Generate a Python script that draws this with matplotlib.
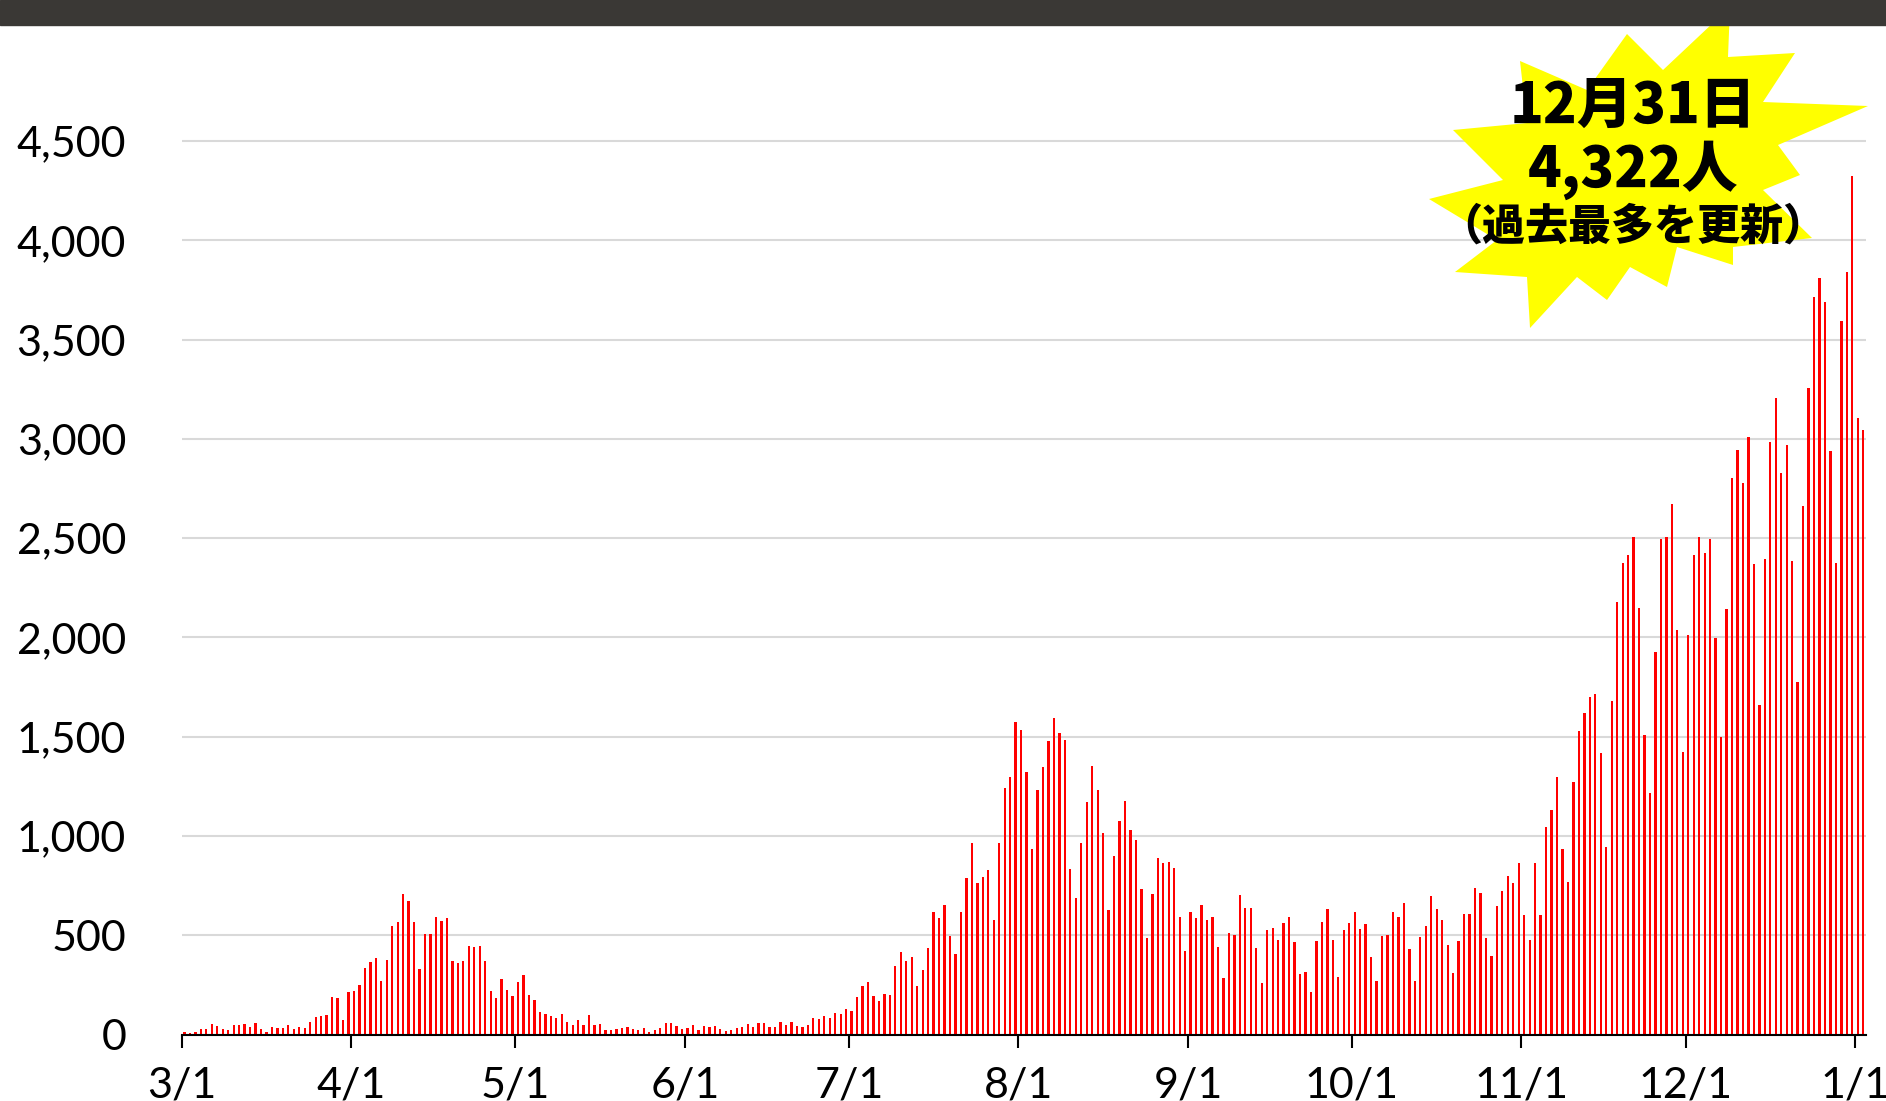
import numpy as np
import matplotlib
matplotlib.use("Agg")
import matplotlib.pyplot as plt
from matplotlib.patches import Polygon, Rectangle

plt.rcParams['font.family'] = ['Lato', 'Noto Sans CJK JP', 'DejaVu Sans']

# daily new cases, 3/1 to 1/2
mar = [12, 10, 13, 28, 27, 55, 44, 28, 23, 50, 49, 52, 39, 59, 28, 12, 40, 35, 34, 50,
       30, 39, 34, 62, 90, 94, 100, 191, 183, 72, 215]
apr = [220, 250, 336, 367, 384, 268, 374, 547, 569, 706, 673, 569, 331, 507, 507, 592,
       572, 586, 371, 362, 371, 446, 441, 448, 371, 218, 186, 280, 225, 195]
may = [263, 299, 201, 175, 116, 104, 94, 86, 104, 64, 49, 76, 50, 97, 49, 54, 25, 25,
       28, 32, 37, 27, 25, 35, 15, 22, 32, 57, 60, 42, 28]
jun = [32, 47, 22, 42, 37, 42, 28, 17, 25, 32, 37, 54, 39, 57, 57, 39, 39, 64, 50, 62,
       45, 39, 50, 86, 77, 94, 84, 107, 106, 128]
jul = [121, 190, 243, 264, 193, 169, 203, 198, 347, 418, 371, 389, 245, 324, 436, 616,
       586, 651, 498, 406, 616, 789, 963, 763, 795, 827, 577, 965, 1240, 1295, 1574]
aug = [1532, 1321, 935, 1230, 1347, 1478, 1594, 1520, 1485, 832, 690, 965, 1171, 1352,
       1230, 1014, 626, 898, 1077, 1178, 1030, 982, 735, 485, 708, 889, 864, 868, 839,
       594, 421]
sep = [619, 587, 651, 579, 592, 443, 284, 510, 503, 705, 636, 636, 436, 262, 527, 539,
       475, 564, 592, 465, 305, 317, 213, 473, 565, 634, 475, 289, 527, 564]
oct_ = [619, 530, 559, 391, 268, 494, 501, 617, 590, 665, 430, 268, 492, 546, 700, 630,
        576, 453, 308, 470, 609, 605, 740, 713, 484, 395, 646, 721, 800, 765, 862]
nov = [601, 478, 862, 603, 1045, 1132, 1299, 933, 767, 1274, 1531, 1618, 1699, 1716,
       1419, 943, 1681, 2178, 2377, 2413, 2505, 2148, 1510, 1217, 1925, 2496, 2508,
       2670, 2038, 1425]
dec = [2014, 2416, 2505, 2423, 2496, 1995, 1498, 2142, 2801, 2944, 2779, 3008, 2368,
       1660, 2395, 2984, 3204, 2828, 2969, 2386, 1773, 2664, 3255, 3713, 3811, 3689,
       2938, 2377, 3591, 3841, 4322]
jan = [3103, 3042]

month_labels = ['3/1', '4/1', '5/1', '6/1', '7/1', '8/1', '9/1', '10/1', '11/1', '12/1', '1/1']
month_lengths = [31, 30, 31, 30, 31, 31, 30, 31, 30, 31]
yticks = [0, 500, 1000, 1500, 2000, 2500, 3000, 3500, 4000, 4500]

cases = np.array(mar + apr + may + jun + jul + aug + sep + oct_ + nov + dec + jan)
days = np.arange(len(cases)) + 0.5
month_pos = np.concatenate([[0], np.cumsum(month_lengths)])

W, H = 1886, 1101
fig = plt.figure(figsize=(W / 100, H / 100), dpi=100)
ax = fig.add_axes([181.7 / W, 66.4 / H, (1866 - 181.7) / W, 933.4 / H])

ax.bar(days, cases, width=0.42, color='#ff0000', linewidth=0)
ax.set_xlim(0, 308)
ax.set_ylim(0, 4700)

ax.set_yticks(yticks)
ax.set_yticklabels([f'{v:,}' for v in yticks])
ax.set_xticks(month_pos)
ax.set_xticklabels(month_labels)
ax.grid(axis='y', color='#d9d9d9', linewidth=1.5)
ax.set_axisbelow(True)

for s in ['left', 'right', 'top']:
    ax.spines[s].set_visible(False)
ax.spines['bottom'].set_linewidth(1.5)
ax.tick_params(axis='y', length=0, pad=40, labelsize=31)
ax.tick_params(axis='x', length=9, width=1.5, pad=14, labelsize=31)

# dark banner at the top
fig.add_artist(Rectangle((0, 1 - 25 / H), 1, 25 / H, transform=fig.transFigure,
                         color='#3a3835', zorder=5))

# yellow starburst callout
star = [(1730, 7), (1728, 57), (1795, 53), (1763, 102), (1868, 106), (1778, 145),
        (1800, 175), (1763, 190), (1812, 238), (1733, 247), (1733, 265), (1677, 247),
        (1667, 287), (1630, 267), (1607, 300), (1577, 277), (1530, 328), (1527, 277),
        (1455, 272), (1497, 240), (1429, 199), (1503, 180), (1453, 130), (1527, 123),
        (1520, 61), (1587, 90), (1627, 34), (1663, 70)]
star = [(x / W, 1 - y / H) for x, y in star]
fig.add_artist(Polygon(star, closed=True, transform=fig.transFigure,
                       facecolor='#ffff00', edgecolor='none', zorder=4))

jp = ['Noto Sans CJK JP', 'DejaVu Sans']
fig.text(1633 / W, 1 - 106 / H, '12月31日', ha='center', va='center',
         fontsize=40, fontweight='heavy', family=jp, zorder=6)
fig.text(1633 / W, 1 - 170 / H, '4,322人', ha='center', va='center',
         fontsize=40, fontweight='heavy', family=jp, zorder=6)
fig.text(1633 / W, 1 - 227 / H, '（過去最多を更新）', ha='center', va='center',
         fontsize=31, fontweight='heavy', family=jp, zorder=6)

fig.savefig('out.png', dpi=100)
